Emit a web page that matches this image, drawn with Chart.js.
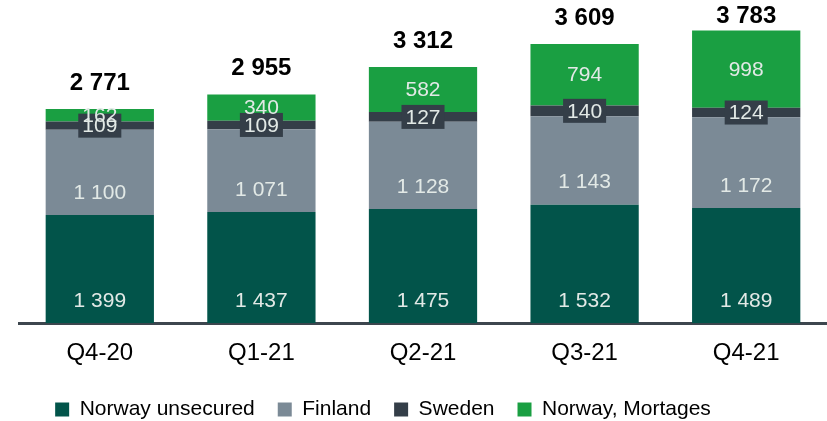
<!DOCTYPE html>
<html>
<head>
<meta charset="utf-8">
<script src="https://cdn.jsdelivr.net/npm/chart.js@4.4.1/dist/chart.umd.min.js"></script>
<style>
  html, body { margin: 0; padding: 0; background: #fff; }
  #wrap { width: 827px; height: 421px; }
</style>
</head>
<body>
<div id="wrap"><canvas id="chart"></canvas></div>
<script>
const quarters = ["Q4-20", "Q1-21", "Q2-21", "Q3-21", "Q4-21"];
const norwayUnsecured = [1399, 1437, 1475, 1532, 1489];
const finland = [1100, 1071, 1128, 1143, 1172];
const sweden = [109, 109, 127, 140, 124];
const norwayMortgages = [162, 340, 582, 794, 998];
const totals = [2771, 2955, 3312, 3609, 3783];

const FONT = "'Liberation Sans', Arial, sans-serif";

// 1 399 style
function fmt(v) {
    return String(v).replace(/\B(?=(\d{3})+(?!\d))/g, " ");
}

// labels inside the bars + totals on top
const barLabels = {
    id: "barLabels",
    afterLayout(chart) {
        // legend sits a bit left of centre in the original
        chart.legend.left -= 40;
        chart.legend.right -= 40;
    },
    afterDatasetsDraw(chart) {
        const ctx = chart.ctx;
        ctx.save();
        ctx.textAlign = "center";
        ctx.textBaseline = "middle";
        chart.data.datasets.forEach((ds, i) => {
            const meta = chart.getDatasetMeta(i);
            meta.data.forEach((bar, j) => {
                const v = ds.data[j];
                let y;
                if (i < 2) {
                    y = bar.base - 23;
                } else {
                    y = (bar.y + bar.base) / 2;
                }
                ctx.font = "21px " + FONT;
                if (i === 2) {
                    const w = ctx.measureText(fmt(v)).width + 8;
                    ctx.fillStyle = "#343e48";
                    ctx.fillRect(bar.x - w / 2, y - 12, w, 24);
                }
                ctx.fillStyle = "#e2e9e6";
                ctx.fillText(fmt(v), bar.x, y + 1);
            });
        });
        const topMeta = chart.getDatasetMeta(chart.data.datasets.length - 1);
        ctx.font = "bold 24px " + FONT;
        ctx.fillStyle = "#000";
        topMeta.data.forEach((bar, j) => {
            ctx.fillText(fmt(totals[j]), bar.x, Math.max(bar.y - 26, 16));
        });
        ctx.restore();
    }
};

new Chart(document.getElementById("chart"), {
    type: "bar",
    data: {
        labels: quarters,
        datasets: [
            { label: "Norway unsecured", data: norwayUnsecured, backgroundColor: "#02544a" },
            { label: "Finland", data: finland, backgroundColor: "#7b8a96" },
            { label: "Sweden", data: sweden, backgroundColor: "#343e48" },
            { label: "Norway, Mortages", data: norwayMortgages, backgroundColor: "#1a9f42" }
        ]
    },
    options: {
        responsive: true,
        maintainAspectRatio: false,
        animation: false,
        categoryPercentage: 1,
        barPercentage: 0.67,
        layout: { padding: { left: 19, right: 0, top: 6, bottom: -9 } },
        plugins: {
            legend: {
                position: "bottom",
                labels: {
                    boxWidth: 14,
                    boxHeight: 14,
                    padding: 23,
                    color: "#000",
                    font: { family: FONT, size: 21 }
                }
            },
            tooltip: { enabled: false }
        },
        scales: {
            x: {
                stacked: true,
                grid: { display: false },
                border: { display: true, color: "#3d464e", width: 3 },
                ticks: { color: "#000", padding: 8, font: { family: FONT, size: 24 } }
            },
            y: {
                stacked: true,
                display: false,
                min: 0,
                max: 4100
            }
        }
    },
    plugins: [barLabels]
});
</script>
</body>
</html>
